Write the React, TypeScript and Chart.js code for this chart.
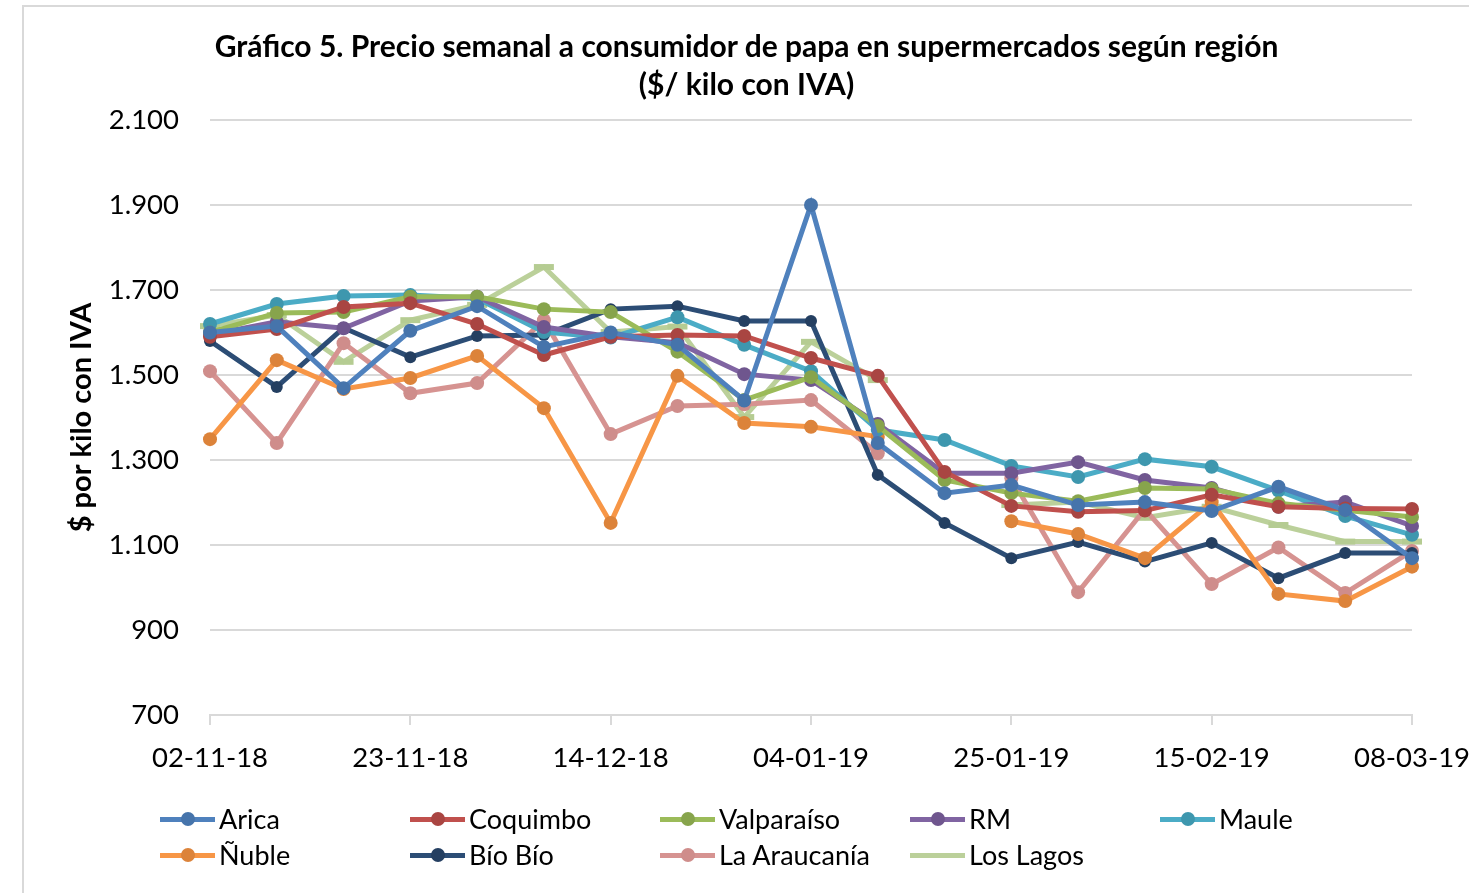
import React, { useEffect, useRef } from "react";
import { Chart, registerables } from "chart.js";

Chart.register(...registerables);

const dates = [
  "02-11-18", "09-11-18", "16-11-18", "23-11-18", "30-11-18", "07-12-18", "14-12-18",
  "21-12-18", "28-12-18", "04-01-19", "11-01-19", "18-01-19", "25-01-19", "01-02-19",
  "08-02-19", "15-02-19", "22-02-19", "01-03-19", "08-03-19",
];

const arica = [1600, 1615, 1469, 1604, 1662, 1566, 1600, 1571, 1440, 1900, 1340, 1222, 1241, 1194, 1201, 1180, 1237, 1182, 1069];
const coquimbo = [1590, 1608, 1660, 1669, 1620, 1547, 1590, 1594, 1592, 1540, 1498, 1272, 1192, 1178, 1181, 1218, 1190, 1186, 1185];
const valparaiso = [1600, 1646, 1648, 1684, 1684, 1655, 1648, 1555, 1441, 1495, 1380, 1253, 1222, 1203, 1234, 1232, 1198, 1182, 1166];
const rm = [1595, 1625, 1610, 1674, 1684, 1613, 1590, 1576, 1502, 1488, 1385, 1269, 1269, 1295, 1253, 1234, 1190, 1201, 1145];
const maule = [1620, 1667, 1686, 1688, 1680, 1601, 1588, 1636, 1571, 1509, 1371, 1347, 1286, 1260, 1302, 1284, 1228, 1168, 1124];
const nuble = [1349, 1535, 1467, 1493, 1545, 1422, 1152, 1498, 1387, 1378, 1355, null, 1156, 1126, 1069, 1201, 985, 968, 1049];
const bioBio = [1580, 1472, 1611, 1542, 1592, 1594, 1655, 1662, 1627, 1627, 1265, 1152, 1069, 1107, 1061, 1105, 1022, 1081, 1081];
const araucania = [1509, 1340, 1575, 1457, 1481, 1629, 1361, 1427, 1431, 1441, 1316, null, 1257, 989, 1184, 1008, 1094, 987, 1086];
const losLagos = [1615, 1641, 1531, 1629, 1665, 1754, 1601, 1614, 1401, 1578, 1488, null, 1194, 1201, 1164, 1190, 1147, 1108, 1108];

const yTicks = [700, 900, 1100, 1300, 1500, 1700, 1900, 2100];

const titleLines = [
  "Gráfico 5. Precio semanal a consumidor de papa en supermercados según región",
  "($/ kilo con IVA)",
];

const seriesDefs = [
  { name: "Arica", data: arica, line: "#4F81BD", point: "#4674AB", style: "circle", r: 7 },
  { name: "Coquimbo", data: coquimbo, line: "#C0504D", point: "#A94542", style: "circle", r: 7 },
  { name: "Valparaíso", data: valparaiso, line: "#9BBB59", point: "#87A44C", style: "circle", r: 7 },
  { name: "RM", data: rm, line: "#8064A2", point: "#6F568E", style: "circle", r: 7 },
  { name: "Maule", data: maule, line: "#4BACC6", point: "#3E97AE", style: "circle", r: 7 },
  { name: "Ñuble", data: nuble, line: "#F79646", point: "#DC833A", style: "circle", r: 7 },
  { name: "Bío Bío", data: bioBio, line: "#2C4D75", point: "#243F61", style: "circle", r: 6 },
  { name: "La Araucanía", data: araucania, line: "#D69391", point: "#CF8D8B", style: "circle", r: 7 },
  { name: "Los Lagos", data: losLagos, line: "#BBD09A", point: "#B5CC92", style: "line", r: 10 },
];

const FONT = "Lato, 'Open Sans', sans-serif";

function fmt(v: number): string {
  if (v >= 1000) {
    return Math.floor(v / 1000) + "." + String(v % 1000).padStart(3, "0");
  }
  return String(v);
}

export default function App() {
  const ref = useRef<HTMLCanvasElement | null>(null);

  useEffect(() => {
    if (!ref.current) return;
    const chart = new Chart(ref.current, {
      type: "line",
      data: {
        labels: dates,
        datasets: seriesDefs.map((s) => ({
          label: s.name,
          data: s.data,
          borderColor: s.line,
          backgroundColor: s.point,
          borderWidth: 5,
          pointStyle: s.style as any,
          pointRadius: s.r,
          pointBackgroundColor: s.point,
          pointBorderColor: s.point,
          pointBorderWidth: s.style === "line" ? 6 : 0,
          tension: 0,
          spanGaps: false,
          fill: false,
        })),
      },
      options: {
        responsive: false,
        animation: false,
        layout: { padding: { left: 0, right: 57, top: 120, bottom: 118 } },
        plugins: {
          legend: { display: false },
          tooltip: { enabled: false },
          title: { display: false },
        },
        scales: {
          x: {
            type: "category",
            offset: false,
            afterFit: (scale: any) => {
              scale.height = 60;
              scale.paddingLeft = 0;
              scale.paddingRight = 0;
            },
            grid: {
              display: true,
              drawOnChartArea: false,
              drawTicks: true,
              tickLength: 10,
              lineWidth: 2,
              color: (ctx: any) => (ctx.index % 3 === 0 ? "#D9D9D9" : "rgba(0,0,0,0)"),
            },
            border: { display: true, color: "#D9D9D9", width: 2 },
            ticks: {
              autoSkip: false,
              maxRotation: 0,
              minRotation: 0,
              padding: 17,
              color: "#000",
              font: { family: FONT, size: 27.5 },
              callback: (_v: any, i: number) => (i % 3 === 0 ? dates[i] : ""),
            },
          },
          y: {
            min: yTicks[0],
            max: yTicks[yTicks.length - 1],
            afterFit: (scale: any) => {
              scale.width = 210;
            },
            afterBuildTicks: (scale: any) => {
              scale.ticks = yTicks.map((v) => ({ value: v }));
            },
            grid: {
              color: "#D9D9D9",
              lineWidth: 2,
              drawTicks: false,
            },
            border: { display: false },
            ticks: {
              padding: 31,
              color: "#000",
              font: { family: FONT, size: 27.5 },
              callback: (v: any) => fmt(Number(v)),
            },
            title: {
              display: true,
              text: "$ por kilo con IVA",
              color: "#000",
              font: { family: FONT, size: 29, weight: "bold", lineHeight: 1.2 },
              padding: { top: 64.6, bottom: 0 },
            },
          },
        },
      },
    });
    return () => chart.destroy();
  }, []);

  return (
    <div
      style={{
        position: "fixed",
        left: 0,
        top: 0,
        width: 1469,
        height: 893,
        background: "#fff",
        overflow: "hidden",
      }}
    >
      <div
        style={{
          position: "absolute",
          left: 22,
          top: 5,
          width: 1500,
          height: 1000,
          border: "2px solid #D9D9D9",
          boxSizing: "border-box",
        }}
      />
      <canvas ref={ref} width={1469} height={893} style={{ position: "absolute", left: 0, top: 0 }} />
      <div
        style={{
          position: "absolute",
          left: 0,
          top: 26,
          width: 1493,
          textAlign: "center",
          fontFamily: FONT,
          fontSize: 30,
          fontWeight: "bold",
          lineHeight: "38px",
          color: "#000",
          whiteSpace: "nowrap",
        }}
      >
        {titleLines.map((t) => (
          <div key={t}>{t}</div>
        ))}
      </div>
      {seriesDefs.map((s, i) => {
        const col = i % 5;
        const row = Math.floor(i / 5);
        const left = 160 + col * 250;
        const cy = 819 + row * 36;
        return (
          <div
            key={s.name}
            style={{ position: "absolute", left, top: cy - 18, height: 36, width: 250 }}
          >
            <div
              style={{
                position: "absolute",
                left: 0,
                top: 15.5,
                width: 55,
                height: 5,
                background: s.line,
              }}
            />
            {s.style === "circle" ? (
              <div
                style={{
                  position: "absolute",
                  left: 27.5 - 7,
                  top: 18 - 7,
                  width: 14,
                  height: 14,
                  borderRadius: "50%",
                  background: s.point,
                }}
              />
            ) : null}
            <div
              style={{
                position: "absolute",
                left: 59,
                top: 0,
                height: 36,
                lineHeight: "36px",
                fontFamily: FONT,
                fontSize: 27,
                color: "#000",
                whiteSpace: "nowrap",
              }}
            >
              {s.name}
            </div>
          </div>
        );
      })}
    </div>
  );
}
